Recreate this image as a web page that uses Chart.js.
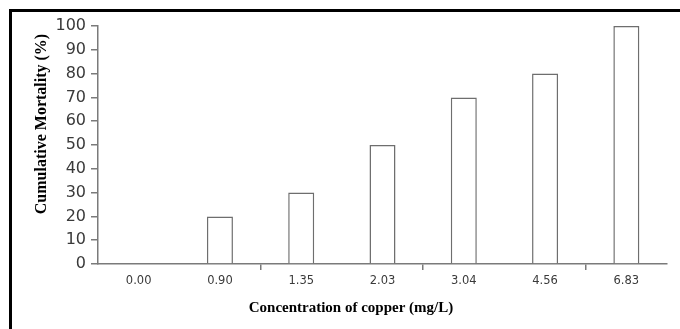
<!DOCTYPE html>
<html>
<head>
<meta charset="utf-8">
<script src="https://cdn.jsdelivr.net/npm/chart.js@4"></script>
<style>
  html, body { margin: 0; padding: 0; background: #fff; }
  #wrap { position: relative; width: 680px; height: 329px; overflow: hidden; }
  #frame {
    position: absolute; left: 9px; top: 9px; width: 700px; height: 400px;
    border-top: 3px solid #000; border-left: 3px solid #000;
  }
  #chart { position: absolute; left: 0; top: 0; }
</style>
</head>
<body>
<div id="wrap">
  <div id="frame"></div>
  <canvas id="chart" width="680" height="329"></canvas>
</div>
<script>
// copper concentrations (mg/L) and cumulative mortality (%)
const concentrations = ['0.00', '0.90', '1.35', '2.03', '3.04', '4.56', '6.83'];
const mortality = [0, 20, 30, 50, 70, 80, 100];

const xTitle = 'Concentration of copper (mg/L)';
const yTitle = 'Cumulative Mortality (%)';

const axisGray = '#7a7a7a';
const labelColor = '#3a3a3a';

// axis titles sit centred on the whole figure, not on the plot area
const axisTitles = {
  id: 'axisTitles',
  afterDraw(chart) {
    const ctx = chart.ctx;
    ctx.save();
    ctx.fillStyle = '#000';
    ctx.textAlign = 'center';
    ctx.textBaseline = 'middle';
    ctx.font = 'bold 15px "Liberation Serif"';
    ctx.fillText(xTitle, 351, 308);
    ctx.translate(42, 124);
    ctx.rotate(-Math.PI / 2);
    ctx.font = 'bold 16px "Liberation Serif"';
    ctx.fillText(yTitle, 0, 0);
    ctx.restore();
  }
};

new Chart(document.getElementById('chart'), {
  type: 'bar',
  data: {
    labels: concentrations,
    datasets: [{
      data: mortality,
      backgroundColor: '#ffffff',
      borderColor: '#6e6e6e',
      borderWidth: 1.5,
      barPercentage: 0.32,
      categoryPercentage: 1
    }]
  },
  options: {
    responsive: false,
    animation: false,
    layout: { padding: { top: 26, right: 13, bottom: 0, left: 0 } },
    plugins: { legend: { display: false }, tooltip: { enabled: false } },
    scales: {
      x: {
        offset: true,
        afterFit: s => { s.height = 65; },
        border: { color: axisGray, width: 1.5 },
        grid: {
          offset: true,
          drawOnChartArea: false,
          tickLength: 6,
          lineWidth: 1.5,
          color: ctx => (ctx.index === 2 || ctx.index === 4 || ctx.index === 6) ? axisGray : 'rgba(0,0,0,0)'
        },
        ticks: { color: labelColor, font: { family: 'DejaVu Sans', size: 11.5 }, padding: 4 }
      },
      y: {
        min: 0,
        max: 100,
        afterFit: s => { s.width = 98; },
        border: { color: axisGray, width: 1.5 },
        grid: { drawOnChartArea: false, tickLength: 7, lineWidth: 1.5, color: axisGray },
        ticks: { stepSize: 10, color: labelColor, font: { family: 'DejaVu Sans', size: 16 }, padding: 5 }
      }
    }
  },
  plugins: [axisTitles]
});
</script>
</body>
</html>
